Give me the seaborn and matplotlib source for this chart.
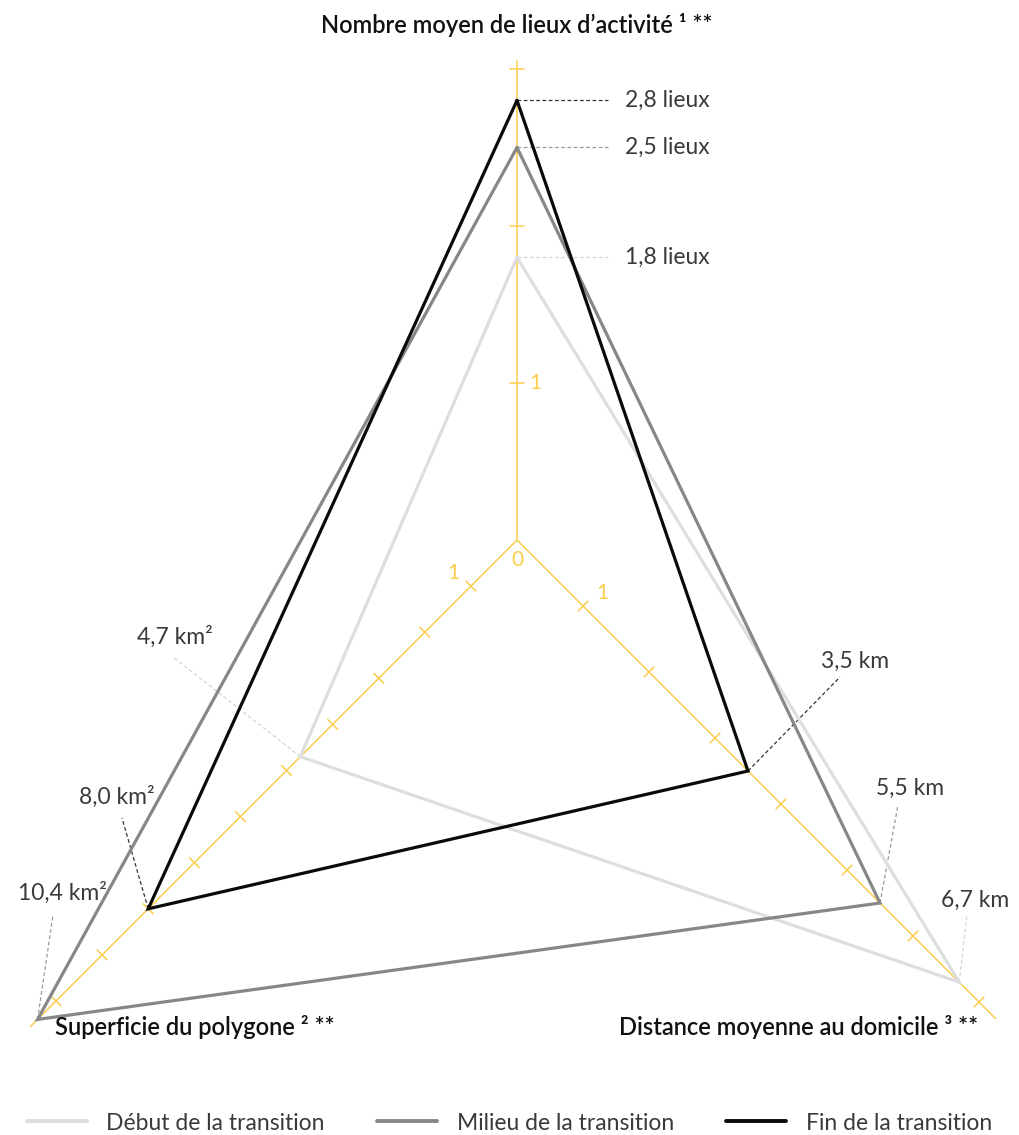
import numpy as np
import pandas as pd
import matplotlib
matplotlib.use("Agg")
import matplotlib.pyplot as plt
import seaborn as sns
from matplotlib.lines import Line2D

# --- data -----------------------------------------------------------------
phases = ["Début de la transition", "Milieu de la transition", "Fin de la transition"]
lieux = [1.8, 2.5, 2.8]            # nombre moyen de lieux d'activité
distance = [6.7, 5.5, 3.5]         # km
superficie = [4.7, 10.4, 8.0]      # km²

lieux_labels = ["1,8 lieux", "2,5 lieux", "2,8 lieux"]
distance_labels = ["6,7 km", "5,5 km", "3,5 km"]
superficie_labels = ["4,7 km²", "10,4 km²", "8,0 km²"]

axis_titles = ["Nombre moyen de lieux d\u2019activité ¹ **",
               "Distance moyenne au domicile ³ **",
               "Superficie du polygone ² **"]

colors = ["#dedede", "#878787", "#0a0a0a"]
leader_colors = ["#d4d4d4", "#9a9a9a", "#333333"]
gold = "#fbcd4c"
txt = "#3a3a3a"

# --- radar geometry: direction and px per unit for each axis -------------
axes_def = {
    "lieux": dict(dir=np.array([0.0, 1.0]), scale=157.0, ticks=[1, 2, 3], end=3.05),
    "distance": dict(dir=np.array([1.0, -1.0]), scale=66.0, ticks=list(range(1, 8)), end=7.25),
    "superficie": dict(dir=np.array([-1.0, -1.0]), scale=46.1, ticks=list(range(1, 11)), end=10.55),
}


def to_xy(axis, v):
    a = axes_def[axis]
    return a["dir"] * a["scale"] * v


rows = []
for i, ph in enumerate(phases):
    for axis, v in [("lieux", lieux[i]), ("distance", distance[i]),
                    ("superficie", superficie[i]), ("lieux", lieux[i])]:
        x, y = to_xy(axis, v)
        rows.append({"phase": ph, "x": x, "y": y})
df = pd.DataFrame(rows)

sns.set_theme(style="white")
plt.rcParams["font.family"] = ["Lato", "DejaVu Sans"]

fig = plt.figure(figsize=(10.19, 11.35), dpi=100)
ax = fig.add_axes([0, 0, 1, 1])
ax.set_xlim(-517, 502)
ax.set_ylim(-595, 540)
ax.axis("off")

# axes + ticks
for name, a in axes_def.items():
    end = to_xy(name, a["end"])
    ax.plot([0, end[0]], [0, end[1]], color=gold, lw=1.1, zorder=1)
    d = a["dir"] / np.linalg.norm(a["dir"])
    perp = np.array([-d[1], d[0]]) * 7
    for t in a["ticks"]:
        p = to_xy(name, t)
        ax.plot([p[0] - perp[0], p[0] + perp[0]], [p[1] - perp[1], p[1] + perp[1]],
                color=gold, lw=1.1, zorder=1)

ax.text(0, -20, "0", color=gold, fontsize=15, ha="center", va="center")
p = to_xy("lieux", 1)
ax.text(p[0] + 12, p[1], "1", color=gold, fontsize=15, ha="left", va="center")
p = to_xy("superficie", 1)
ax.text(p[0] - 18, p[1] + 13, "1", color=gold, fontsize=15, ha="center", va="center")
p = to_xy("distance", 1)
ax.text(p[0] + 19, p[1] + 13, "1", color=gold, fontsize=15, ha="center", va="center")

# polygons
sns.lineplot(data=df, x="x", y="y", hue="phase", palette=colors, sort=False,
             estimator=None, linewidth=2.3, legend=False, ax=ax, zorder=3,
             solid_joinstyle="miter")

# value labels with leader lines
for i in range(3):
    # top axis
    px, py = to_xy("lieux", lieux[i])
    ax.plot([px, px + 91], [py, py], ls=(0, (3, 2)), lw=0.9, color=leader_colors[i], zorder=2)
    ax.text(px + 108, py, lieux_labels[i], fontsize=16.5, color=txt, ha="left", va="center")

dist_text = [(458, -360), (393, -248), (338, -121)]
dist_end = [(450, -375), (381, -265), (323, -137)]
sup_text = [(-342, -97), (-455, -353), (-400, -257)]
sup_end = [(-344, -117), (-464, -375), (-395, -278)]
for i in range(3):
    px, py = to_xy("distance", distance[i])
    ex, ey = dist_end[i]
    ax.plot([px, ex], [py, ey], ls=(0, (3, 2)), lw=0.9, color=leader_colors[i], zorder=2)
    ax.text(*dist_text[i], distance_labels[i], fontsize=16.5, color=txt, ha="center", va="center")
    px, py = to_xy("superficie", superficie[i])
    ex, ey = sup_end[i]
    ax.plot([px, ex], [py, ey], ls=(0, (3, 2)), lw=0.9, color=leader_colors[i], zorder=2)
    ax.text(*sup_text[i], superficie_labels[i], fontsize=16.5, color=txt, ha="center", va="center")

# axis titles
title_kw = dict(fontsize=17, fontweight="semibold", color="#111111", va="center")
ax.text(0, 515, axis_titles[0], ha="center", **title_kw)
ax.text(461, -487, axis_titles[1], ha="right", **title_kw)
ax.text(-462, -487, axis_titles[2], ha="left", **title_kw)

# legend
handles = [Line2D([], [], color=c, lw=2.8) for c in colors]
fig.legend(handles, phases, loc="center", bbox_to_anchor=(0.5, 1 - 1123 / 1135),
           ncol=3, frameon=False, handlelength=2.6, handletextpad=0.85,
           columnspacing=2.3, labelcolor=txt, fontsize=16.5)

fig.savefig("out.png", dpi=100)
